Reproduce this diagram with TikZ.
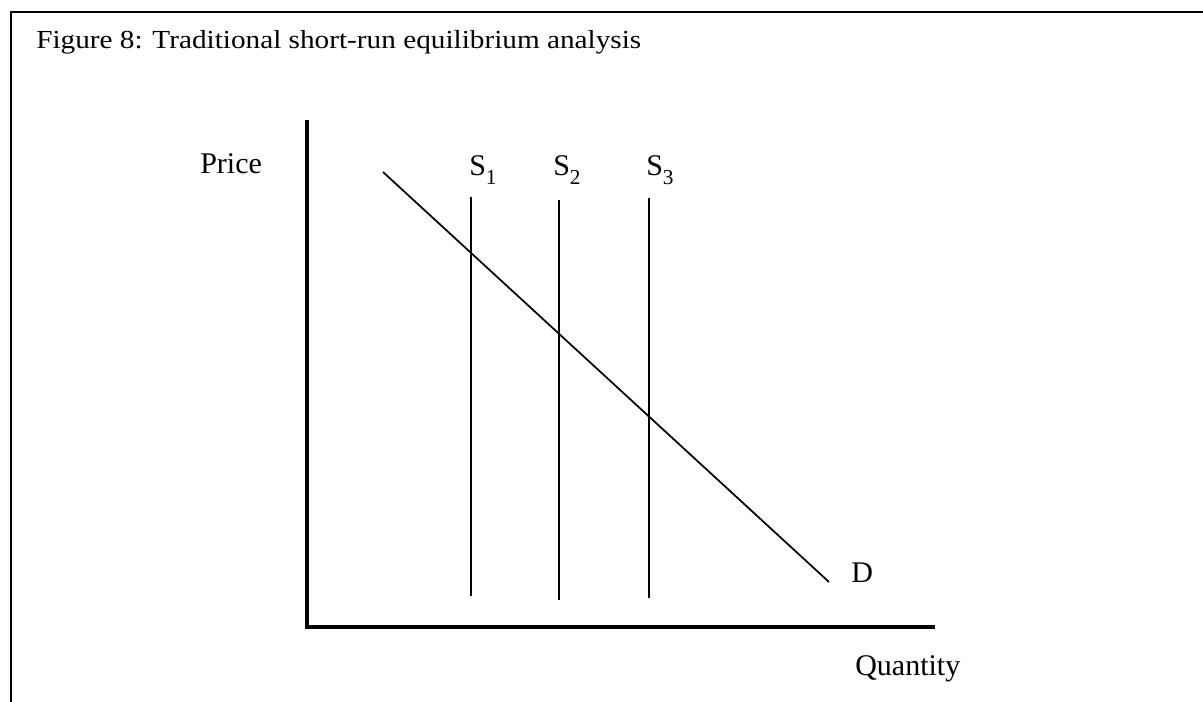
\documentclass[tikz,border=0pt]{standalone}
\usepackage{fontspec}
\setmainfont{Liberation Serif}
\begin{document}
\begin{tikzpicture}[x=0.75pt,y=-0.75pt,
  lbl/.style={inner sep=0pt, anchor=base west, font=\fontsize{22.5}{27}\selectfont},
  axisline/.style={line width=2.4pt, line join=miter},
  curveline/.style={line width=1.3pt},
  frameline/.style={line width=2.1pt, line join=miter}]
\useasboundingbox (0,0) rectangle (1203,702);
% frame
\coordinate (fb) at (11,702);
\coordinate (fc) at (11,12);
\coordinate (fr) at (1204,12);
\draw[frameline] (fb) -- (fc) -- (fr);
% title
\node[anchor=base west, inner sep=0pt] (title) at (36,49)
  {\scalebox{1.125}[1]{\fontsize{19.5}{23}\selectfont Figure 8: Traditional short-run equilibrium analysis}};
% axes
\coordinate (O) at (307,627);
\coordinate (ytop) at (307,120);
\coordinate (xend) at (935,627);
\draw[axisline] (ytop) -- (O) -- (xend);
% supply lines
\coordinate (s1t) at (471,197); \coordinate (s1b) at (471,596);
\coordinate (s2t) at (559,200); \coordinate (s2b) at (559,600);
\coordinate (s3t) at (649,198); \coordinate (s3b) at (649,598);
\draw[curveline] (s1t) -- (s1b);
\draw[curveline] (s2t) -- (s2b);
\draw[curveline] (s3t) -- (s3b);
% demand
\coordinate (dA) at (383,172);
\coordinate (dB) at (829,582);
\draw[curveline] (dA) -- (dB);
% labels
\node[lbl] (price) at (200,174) {Price};
\node[lbl] (S1) at (469,176) {S\raisebox{-6.5pt}{\fontsize{16}{18}\selectfont 1}};
\node[lbl] (S2) at (553,176) {S\raisebox{-6.5pt}{\fontsize{16}{18}\selectfont 2}};
\node[lbl] (S3) at (646,176) {S\raisebox{-6.5pt}{\fontsize{16}{18}\selectfont 3}};
\node[lbl] (D) at (851,582) {D};
\node[lbl] (qty) at (855,675) {Quantity};
\end{tikzpicture}
\end{document}
